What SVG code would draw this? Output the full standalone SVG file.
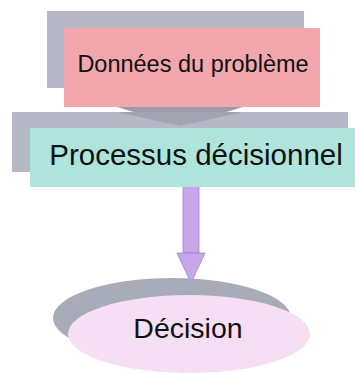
<svg xmlns="http://www.w3.org/2000/svg" width="355" height="373" viewBox="0 0 355 373">
<style>
.shadow{fill:#b6b8c6}
.lbl{font-family:"Liberation Sans",Arial,sans-serif;fill:#111;text-anchor:middle}
</style>
<rect width="355" height="373" fill="#fff"/>
<g id="donnees">
<rect class="shadow" x="47" y="11" width="257" height="77"/>
<rect x="64" y="28" width="256" height="79" fill="#f2a6ae"/>
<text class="lbl" x="193" y="72" font-size="23.5">Données du problème</text>
</g>
<g id="connectors">
<polygon points="117,107 243,107 180,126" fill="#9c9aa8"/>
<g id="arrow2">
<rect x="183" y="186" width="16" height="67" fill="#c8a6ee" stroke="#9a88c0" stroke-width="0.8"/>
<polygon points="177,253 205,253 191,283" fill="#c8a6ee" stroke="#9a88c0" stroke-width="0.8"/>
</g>
</g>
<g id="processus">
<rect class="shadow" x="12" y="112" width="336" height="60"/>
<polygon points="117,112 243,112 180,126" fill="#9c9aa8" opacity="0.7"/>
<rect x="30" y="128" width="325" height="59" fill="#aee4dc"/>
<text class="lbl" x="196" y="165" font-size="29.5">Processus décisionnel</text>
</g>
<g id="decision">
<ellipse cx="172" cy="318" rx="119" ry="40" fill="#a8acb8"/>
<ellipse cx="189" cy="334" rx="121" ry="39" fill="#f6def4"/>
<text class="lbl" x="188" y="338" font-size="28.5">Décision</text>
</g>
</svg>
